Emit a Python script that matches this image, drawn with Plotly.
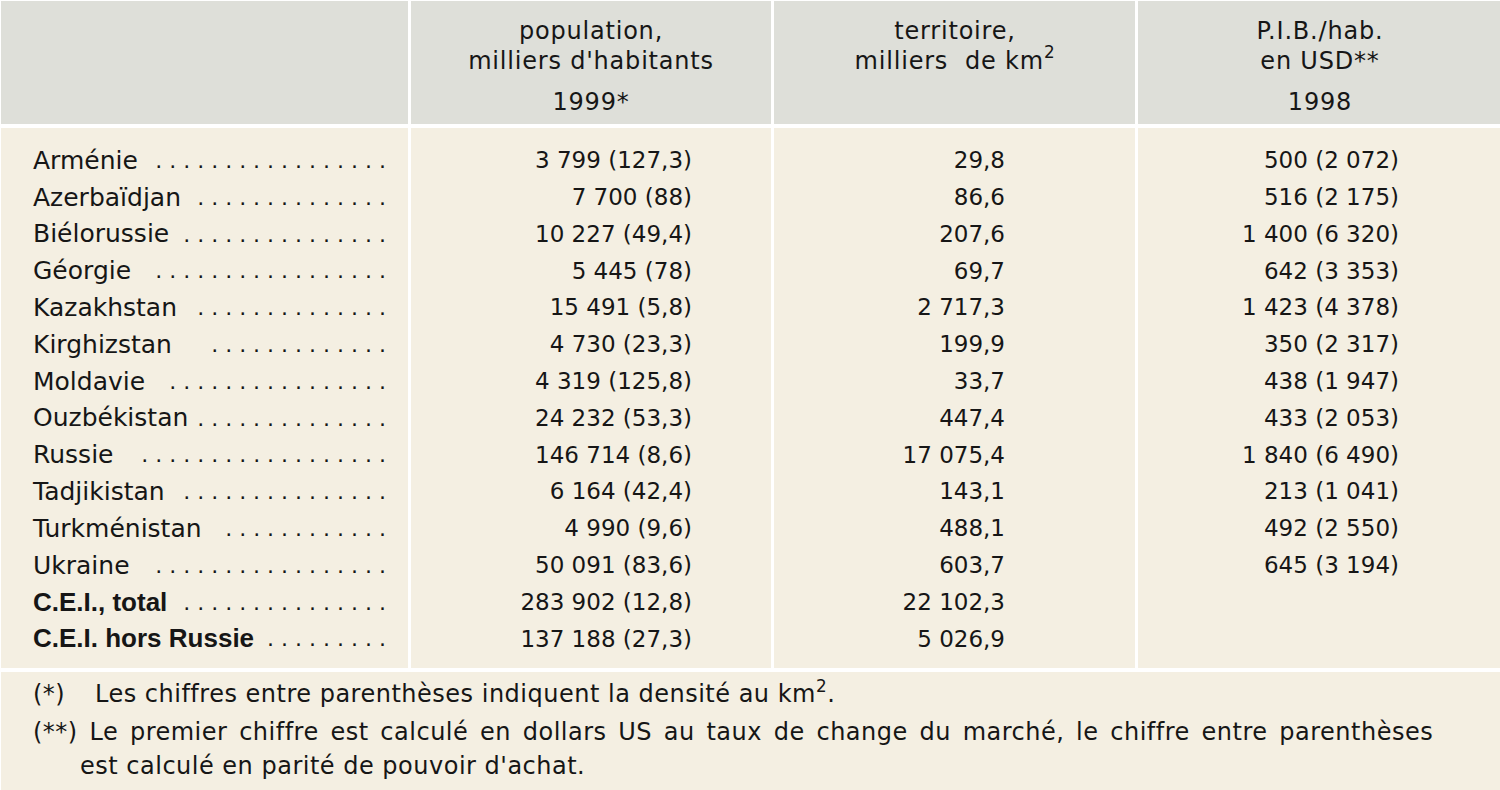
import plotly.graph_objects as go

# ---------------- data ----------------
countries = ["Arménie", "Azerbaïdjan", "Biélorussie", "Géorgie", "Kazakhstan",
             "Kirghizstan", "Moldavie", "Ouzbékistan", "Russie", "Tadjikistan",
             "Turkménistan", "Ukraine", "C.E.I., total", "C.E.I. hors Russie"]
population = [3799, 7700, 10227, 5445, 15491, 4730, 4319, 24232, 146714, 6164,
              4990, 50091, 283902, 137188]
densite = [127.3, 88, 49.4, 78, 5.8, 23.3, 125.8, 53.3, 8.6, 42.4, 9.6, 83.6,
           12.8, 27.3]
territoire = [29.8, 86.6, 207.6, 69.7, 2717.3, 199.9, 33.7, 447.4, 17075.4,
              143.1, 488.1, 603.7, 22102.3, 5026.9]
pib_change = [500, 516, 1400, 642, 1423, 350, 438, 433, 1840, 213, 492, 645,
              None, None]
pib_ppa = [2072, 2175, 6320, 3353, 4378, 2317, 1947, 2053, 6490, 1041, 2550,
           3194, None, None]
total_rows = ["C.E.I., total", "C.E.I. hors Russie"]
leader_dots = [17, 14, 15, 17, 14, 13, 16, 14, 18, 15, 12, 17, 15, 9]

header_pop = ["population,", "milliers d'habitants", "1999*"]
header_terr = ["territoire,", "milliers\u00a0\u00a0de km<sup>2</sup>"]
header_pib = ["P.I.B./hab.", "en USD**", "1998"]
notes = ["(*)", "Les chiffres entre parenthèses indiquent la densité au km<sup>2</sup>.",
         "(**) Le premier chiffre est calculé en dollars US au taux de change du marché, le chiffre entre parenthèses",
         "est calculé en parité de pouvoir d'achat."]


def fr(v):
    if v is None:
        return ""
    if isinstance(v, int):
        s = f"{v:,}"
    else:
        s = f"{v:,.1f}"
    return s.replace(",", " ").replace(".", ",")


def spaced(t, ls, ws=0):
    style = f"letter-spacing:{ls}px"
    if ws:
        style += f";word-spacing:{ws}px"
    return f'<span style="{style}">{t}</span>'


# ---------------- styles ----------------
W, H = 1500, 790
HEADER_BG = "#dedfd9"
BODY_BG = "#f4efe2"
INK = "#161616"
F_NAME = "DejaVu Sans"
F_NUM = "DejaVu Sans"
F_BOLD = "Liberation Sans"

fig = go.Figure()

# rows on a categorical axis
normal = [c for c in countries if c not in total_rows]
fig.add_trace(go.Scatter(
    x=[33] * len(normal), y=normal, mode="text", text=normal,
    textposition="middle right",
    textfont=dict(family=F_NAME, size=25, color=INK),
    hoverinfo="skip", showlegend=False))
fig.add_trace(go.Scatter(
    x=[33] * len(total_rows), y=total_rows, mode="text",
    text=[f"<b>{c}</b>" for c in total_rows],
    textposition="middle right",
    textfont=dict(family=F_BOLD, size=26, color=INK),
    hoverinfo="skip", showlegend=False))
fig.add_trace(go.Scatter(
    x=[386] * len(countries), y=countries, mode="text",
    text=[" .".join([""] * (k + 1)).strip() for k in leader_dots],
    textposition="middle left",
    textfont=dict(family=F_NAME, size=22, color=INK),
    hoverinfo="skip", showlegend=False))
fig.add_trace(go.Scatter(
    x=[692] * len(countries), y=countries, mode="text",
    text=[f"{fr(p)} ({fr(d)})" for p, d in zip(population, densite)],
    textposition="middle left",
    textfont=dict(family=F_NUM, size=23, color=INK),
    hoverinfo="skip", showlegend=False))
fig.add_trace(go.Scatter(
    x=[1005] * len(countries), y=countries, mode="text",
    text=[fr(t) for t in territoire],
    textposition="middle left",
    textfont=dict(family=F_NUM, size=23, color=INK),
    hoverinfo="skip", showlegend=False))
pib_rows = [c for c, v in zip(countries, pib_change) if v is not None]
fig.add_trace(go.Scatter(
    x=[1399] * len(pib_rows), y=pib_rows, mode="text",
    text=[f"{fr(a)} ({fr(b)})" for a, b in zip(pib_change, pib_ppa) if a is not None],
    textposition="middle left",
    textfont=dict(family=F_NUM, size=23, color=INK),
    hoverinfo="skip", showlegend=False))

# header and notes on an overlaid pixel axis
hx = [591] * 3 + [955] * 2 + [1320] * 3
hy = [32.5, 62.5, 103.5, 32.5, 62.5, 32.5, 62.5, 103.5]
fig.add_trace(go.Scatter(
    x=hx, y=hy, yaxis="y2", mode="text",
    text=[spaced(t, 0.8) for t in header_pop + header_terr + header_pib],
    textposition="middle center",
    textfont=dict(family=F_NUM, size=24, color=INK),
    hoverinfo="skip", showlegend=False))
fig.add_trace(go.Scatter(
    x=[33, 95, 33, 80], y=[696, 696, 733.5, 767.5], yaxis="y2", mode="text",
    text=[spaced(notes[0], 0.5), spaced(notes[1], 0.5),
          spaced(notes[2], 0.5, 3.6), spaced(notes[3], 0.5)],
    textposition="middle right",
    textfont=dict(family=F_NUM, size=24, color=INK),
    hoverinfo="skip", showlegend=False))

# backgrounds
def py(p):
    return 1 - p / H

shapes = [
    dict(type="rect", xref="x", yref="paper", x0=1, x1=W, y0=py(1), y1=py(124),
         fillcolor=HEADER_BG, line_width=0, layer="below"),
    dict(type="rect", xref="x", yref="paper", x0=1, x1=W, y0=py(128), y1=py(668),
         fillcolor=BODY_BG, line_width=0, layer="below"),
    dict(type="rect", xref="x", yref="paper", x0=1, x1=W, y0=py(672), y1=py(H),
         fillcolor=BODY_BG, line_width=0, layer="below"),
]
for xs in (409.5, 772.5, 1136.5):
    shapes.append(dict(type="line", xref="x", yref="paper", x0=xs, x1=xs,
                       y0=py(0), y1=py(668), line=dict(color="white", width=3),
                       layer="below"))

row0, step = 162.5, 36.8
fig.update_layout(
    width=W, height=H, margin=dict(l=0, r=0, t=0, b=0),
    paper_bgcolor="white", plot_bgcolor="white",
    shapes=shapes,
    xaxis=dict(range=[0, W], visible=False, fixedrange=True),
    yaxis=dict(type="category", categoryorder="array", categoryarray=countries,
               range=[(H - row0) / step, -row0 / step], visible=False,
               fixedrange=True),
    yaxis2=dict(range=[H, 0], overlaying="y", visible=False, fixedrange=True),
)

fig.write_html("out.html", config={"displayModeBar": False},
               post_script="document.body.style.margin='0';"
                           "document.body.style.overflow='hidden';")
